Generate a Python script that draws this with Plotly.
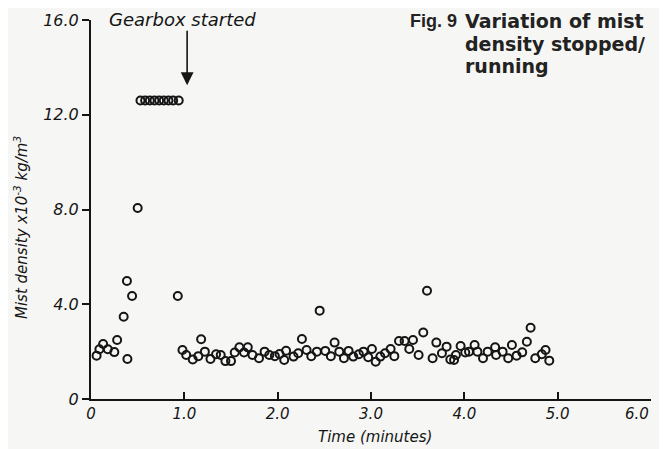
import plotly.graph_objects as go

# ---- data ----
time_min = [0.06, 0.09, 0.13, 0.18, 0.25, 0.28, 0.35, 0.385, 0.39, 0.44, 0.50,
            0.53, 0.58, 0.63, 0.68, 0.73, 0.78, 0.83, 0.88, 0.94,
            0.93, 0.98, 1.02, 1.09, 1.15, 1.18, 1.22, 1.28, 1.34, 1.39, 1.44,
            1.50, 1.54, 1.59, 1.64, 1.68, 1.73, 1.80, 1.86, 1.91, 1.97, 2.02,
            2.07, 2.09, 2.17, 2.22, 2.26, 2.31, 2.36, 2.42, 2.45, 2.51, 2.57,
            2.61, 2.66, 2.71, 2.76, 2.81, 2.87, 2.92, 2.97, 3.01, 3.05, 3.10,
            3.15, 3.21, 3.25, 3.30, 3.36, 3.41, 3.45, 3.51, 3.56, 3.60, 3.66,
            3.70, 3.76, 3.81, 3.85, 3.89, 3.91, 3.96, 4.01, 4.05, 4.11, 4.14,
            4.20, 4.25, 4.33, 4.34, 4.41, 4.47, 4.51, 4.56, 4.62, 4.67, 4.71,
            4.76, 4.83, 4.87, 4.91]
mist_density = [1.83, 2.10, 2.32, 2.10, 1.98, 2.49, 3.47, 4.98, 1.69, 4.35, 8.06,
                12.6, 12.6, 12.6, 12.6, 12.6, 12.6, 12.6, 12.6, 12.6,
                4.35, 2.07, 1.86, 1.67, 1.81, 2.52, 2.00, 1.69, 1.89, 1.86, 1.60,
                1.60, 1.96, 2.18, 1.96, 2.18, 1.86, 1.72, 2.00, 1.86, 1.81, 1.90,
                1.65, 2.04, 1.79, 1.93, 2.53, 2.07, 1.81, 2.00, 3.73, 2.03, 1.81,
                2.38, 2.00, 1.72, 2.03, 1.79, 1.89, 2.00, 1.76, 2.11, 1.57, 1.79,
                1.93, 2.11, 1.81, 2.45, 2.45, 2.11, 2.49, 1.86, 2.81, 4.57, 1.72,
                2.38, 1.93, 2.21, 1.67, 1.65, 1.86, 2.24, 1.96, 2.00, 2.28, 2.00,
                1.72, 2.00, 2.18, 1.86, 2.00, 1.72, 2.28, 1.83, 1.97, 2.42, 3.01,
                1.72, 1.89, 2.07, 1.62]

x_tickvals = [0, 1, 2, 3, 4, 5, 6]
x_ticktext = ["0", "1.0", "2.0", "3.0", "4.0", "5.0", "6.0"]
y_tickvals = [0, 4, 8, 12, 16]
y_ticktext = ["0", "4.0", "8.0", "12.0", "16.0"]

caption_lines = ["Variation of mist", "density stopped/", "running"]

gearbox_start = 1.03
arrow_tip_density = 13.25

INK = "#151515"
BG = "#f6f6f4"
HAND = "DejaVu Sans"

# page body has an 8px margin, so the figure is offset by (8, 8) in the window
OFF = 8
WIN_W, WIN_H = 667, 449
PL, PR, PT, PB = 91, 651, 20, 399   # plot area in window pixels
PW, PH = PR - PL, PB - PT


def px(xp):
    return (xp - PL) / PW


def py(yp):
    return (PB - yp) / PH


# the last x label sits left of its tick in the reference: draw it separately, right-aligned
x_ticklabels = x_ticktext[:-1] + [""]

fig = go.Figure()
fig.add_trace(go.Scatter(
    x=time_min, y=mist_density, mode="markers",
    marker=dict(symbol="circle-open", size=8, color=INK, line=dict(width=2, color=INK)),
    hoverinfo="skip", showlegend=False, cliponaxis=False,
))

fig.update_layout(
    width=WIN_W - OFF, height=WIN_H - OFF,
    margin=dict(l=PL - OFF, r=WIN_W - PR, t=PT - OFF, b=WIN_H - PB, autoexpand=False, pad=0),
    paper_bgcolor=BG, plot_bgcolor=BG,
    xaxis=dict(range=[0, 6], tickvals=x_tickvals, ticktext=x_ticklabels, automargin=False,
               showgrid=False, zeroline=False, showline=True, linecolor=INK, linewidth=2,
               ticks="inside", ticklen=7, tickwidth=1.5, tickcolor=INK,
               tickfont=dict(family=HAND, size=15, color=INK, style="italic")),
    yaxis=dict(range=[0, 16], tickvals=y_tickvals, ticktext=y_ticktext, automargin=False,
               showgrid=False, zeroline=False, showline=True, linecolor=INK, linewidth=2,
               ticks="outside", ticklen=7, tickwidth=1.5, tickcolor=INK,
               tickfont=dict(family=HAND, size=16, color=INK, style="italic")),
)

fig.add_annotation(text=x_ticktext[-1], xref="x", yref="paper", x=x_tickvals[-1], y=py(414),
                   xanchor="right", yanchor="middle", showarrow=False,
                   font=dict(family=HAND, size=15, color=INK, style="italic"))

# axis titles
fig.add_annotation(text="Time (minutes)", xref="paper", yref="paper", x=px(375), y=py(437),
                   xanchor="center", yanchor="middle", showarrow=False,
                   font=dict(family=HAND, size=15, color=INK, style="italic"))
fig.add_annotation(text="Mist density x10<sup>-3</sup> kg/m<sup>3</sup>", xref="paper", yref="paper",
                   x=px(21), y=py(228), xanchor="center", yanchor="middle", textangle=-90,
                   showarrow=False, font=dict(family=HAND, size=15, color=INK, style="italic"))

# gearbox annotation
fig.add_annotation(text="Gearbox started", xref="paper", yref="paper", x=px(107), y=py(19),
                   xanchor="left", yanchor="middle", showarrow=False,
                   font=dict(family=HAND, size=18, color=INK, style="italic"))
fig.add_annotation(x=gearbox_start, y=arrow_tip_density, xref="x", yref="y", text="",
                   showarrow=True, ax=0, ay=-56, arrowhead=2, arrowsize=1.6,
                   arrowwidth=1.6, arrowcolor=INK, font=dict(size=1))

# figure caption
fig.add_annotation(text="Fig. 9", xref="paper", yref="paper", x=px(459), y=py(21),
                   xanchor="right", yanchor="middle", showarrow=False,
                   font=dict(family="Liberation Sans", size=18, color="#222222", weight="bold"))
CF = dict(family="DejaVu Sans", size=19, color="#222222", weight="bold")
for i, line in enumerate(caption_lines):
    fig.add_annotation(text=line, xref="paper", yref="paper", x=px(463), y=py(21 + 22.5 * i),
                       xanchor="left", yanchor="middle", showarrow=False, font=CF)

fig.write_html("out.html")
